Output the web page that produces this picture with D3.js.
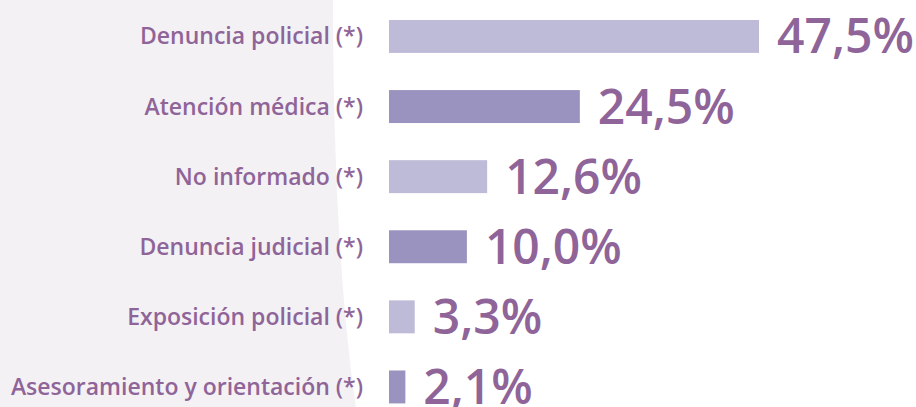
<!DOCTYPE html>
<html>
<head>
<meta charset="utf-8">
<script src="https://cdn.jsdelivr.net/npm/d3@7"></script>
<style>
  body { margin: 0; background: #fff; }
  svg { display: block; }
</style>
</head>
<body>
<div id="viz"></div>
<script>
// data
var categories = ["Denuncia policial (*)", "Atención médica (*)", "No informado (*)",
    "Denuncia judicial (*)", "Exposición policial (*)", "Asesoramiento y orientación (*)"];
var values = [47.5, 24.5, 12.6, 10.0, 3.3, 2.1];
var valueLabels = ["47,5%", "24,5%", "12,6%", "10,0%", "3,3%", "2,1%"];

var width = 916, height = 407;

var svg = d3.select("#viz")
    .append("svg")
    .attr("width", width)
    .attr("height", height);

// light panel behind the category labels
svg.append("path")
    .attr("d", "M0,0 L333,0 C333,150 340,300 356,407 L0,407 Z")
    .attr("fill", "#f4f1f5");

var x = d3.scaleLinear()
    .domain([0, 47.5])
    .range([389, 759]);

var y = d3.scaleBand()
    .domain(categories)
    .range([1.4, 422])
    .paddingInner(0.53)
    .paddingOuter(0.265);

var color = ["#bebbd8", "#9a93bf"];
var textColor = "#8f6498";

// bars
svg.selectAll(".bar")
    .data(values)
    .enter()
    .append("rect")
    .attr("class", "bar")
    .attr("x", x(0))
    .attr("y", function (d, i) { return y(categories[i]) })
    .attr("width", function (d) { return x(d) - x(0) })
    .attr("height", y.bandwidth())
    .attr("fill", function (d, i) { return color[i % 2] });

// category labels
svg.selectAll(".cat")
    .data(categories)
    .enter()
    .append("text")
    .attr("class", "cat")
    .attr("x", 363)
    .attr("y", function (d) { return y(d) + y.bandwidth() / 2 + 8 })
    .attr("text-anchor", "end")
    .style("font-family", "'Open Sans', sans-serif")
    .style("font-weight", 600)
    .style("font-size", "23px")
    .style("fill", textColor)
    .text(function (d) { return d });

// value labels
svg.selectAll(".val")
    .data(values)
    .enter()
    .append("text")
    .attr("class", "val")
    .attr("x", function (d) { return x(d) + 18 })
    .attr("y", function (d, i) { return y(categories[i]) + y.bandwidth() / 2 + 17 })
    .style("font-family", "'Open Sans', sans-serif")
    .style("font-weight", 600)
    .style("font-size", "48px")
    .style("fill", textColor)
    .text(function (d, i) { return valueLabels[i] });
</script>
</body>
</html>
